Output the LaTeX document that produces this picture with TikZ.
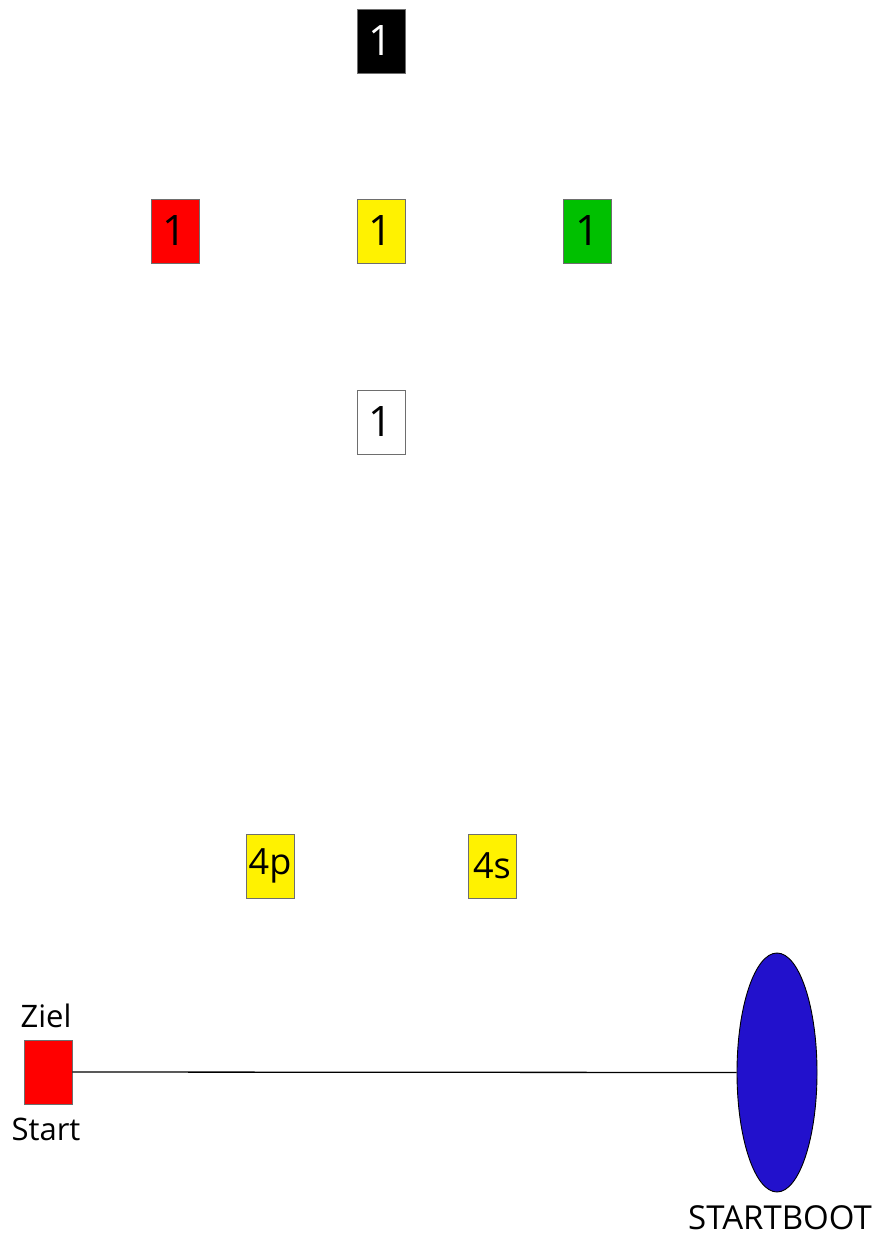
\documentclass[tikz,border=0pt]{standalone}
\usepackage{fontspec}
\setmainfont{Open Sans}
\usetikzlibrary{shapes.geometric}
\definecolor{boxgreen}{RGB}{0,192,0}
\definecolor{boatblue}{RGB}{34,17,204}
\definecolor{edgegray}{RGB}{110,110,110}
\tikzset{
  markbox/.style={draw=edgegray, line width=0.9pt, minimum width=48pt, minimum height=64pt, inner sep=0pt},
  bigdigit/.style={font=\fontsize{42}{46}\selectfont},
  middigit/.style={font=\fontsize{36}{40}\selectfont},
  labeltext/.style={font=\fontsize{31}{36}\selectfont, inner sep=0pt, anchor=base},
  boattext/.style={font=\fontsize{33}{38}\selectfont, inner sep=0pt, anchor=base}
}
\begin{document}
\begin{tikzpicture}[x=1pt,y=-1pt]
\useasboundingbox (0,0) rectangle (877,1233);
\node[markbox, bigdigit, fill=black, text=white] (b1) at (381,41) {1};
\node[markbox, bigdigit, fill=red] (r1) at (175,231) {1};
\node[markbox, bigdigit, fill=yellow] (y1) at (381,231) {1};
\node[markbox, bigdigit, fill=boxgreen] (g1) at (587,231) {1};
\node[markbox, bigdigit, fill=white] (w1) at (381,422) {1};
\node[markbox, middigit, fill=yellow] (p4) at (270,866) {4p};
\node[markbox, middigit, fill=yellow] (s4) at (492,866) {4s};
\node[markbox, fill=red] (ziel) at (48,1072) {};
\node[labeltext] (zl) at (46,1027) {Ziel};
\node[labeltext] (sl) at (46,1140) {Start};
\node[ellipse, draw=black, line width=0.9pt, fill=boatblue, minimum width=80pt, minimum height=239pt, inner sep=0pt] (boat) at (777,1072.5) {};
\node[boattext] (bl) at (780,1229) {STARTBOOT};
\draw[line width=1.3pt] (ziel.east) -- (boat.west);
\end{tikzpicture}
\end{document}
